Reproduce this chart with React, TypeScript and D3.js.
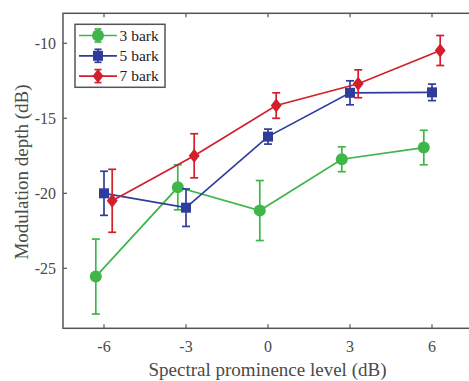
import React from "react";
import * as d3 from "d3";

const levels = [-6, -3, 0, 3, 6];
const xTicks = [-6, -3, 0, 3, 6];
const yTicks = [-25, -20, -15, -10];
const seriesNames = ["3 bark", "5 bark", "7 bark"];
const seriesColors = ["#3fb54a", "#2e3d9b", "#d21f2c"];
const seriesOffsets = [-0.3, 0, 0.3];
const markers = ["circle", "square", "diamond"];
const green = [-25.55, -19.6, -21.15, -17.73, -16.95];
const greenErr = [2.5, 1.5, 2.0, 0.83, 1.15];
const blue = [-20.0, -20.96, -16.22, -13.3, -13.27];
const blueErr = [1.47, 1.25, 0.5, 0.8, 0.55];
const red = [-20.5, -17.5, -14.15, -12.7, -10.48];
const redErr = [2.1, 1.47, 0.85, 0.93, 1.0];

const W = 469, H = 381;
const margin = { left: 63, top: 13.3, right: -4, bottom: 52.7 };

export default function App() {
  const x = d3.scaleLinear().domain([-7.5, 7.5]).range([margin.left, W + 4]);
  const y = d3.scaleLinear().domain([-29, -8]).range([H - margin.bottom, margin.top]);
  const series = [
    { v: green, e: greenErr },
    { v: blue, e: blueErr },
    { v: red, e: redErr },
  ];
  const line = d3.line<[number, number]>().x(d => d[0]).y(d => d[1]);
  const axisColor = "#555";
  const font = "'Liberation Serif', 'Times New Roman', serif";

  const marker = (kind: string, cx: number, cy: number, color: string, key: string) => {
    if (kind === "circle") return <circle key={key} cx={cx} cy={cy} r={6} fill={color} />;
    if (kind === "square") return <rect key={key} x={cx - 5} y={cy - 5} width={10} height={10} fill={color} />;
    const s = 7;
    return <path key={key} d={`M${cx},${cy - s}L${cx + s * 0.78},${cy}L${cx},${cy + s}L${cx - s * 0.78},${cy}Z`} fill={color} />;
  };

  const x0 = x.range()[0], x1 = x.range()[1];
  const y0 = y.range()[0], y1 = y.range()[1];

  return (
    <svg width={W} height={H} style={{ position: "absolute", left: 0, top: 0, background: "#fff" }}>
      <rect x={0} y={0} width={W} height={H} fill="#fff" />
      {series.map((s, i) => {
        const pts: [number, number][] = levels.map((l, j) => [x(l + seriesOffsets[i]), y(s.v[j])]);
        const c = seriesColors[i];
        return (
          <g key={i}>
            <path d={line(pts) || ""} fill="none" stroke={c} strokeWidth={1.7} />
            {levels.map((l, j) => {
              const cx = x(l + seriesOffsets[i]);
              const yt = y(s.v[j] + s.e[j]);
              const yb = y(s.v[j] - s.e[j]);
              return (
                <g key={j} stroke={c} strokeWidth={1.7}>
                  <line x1={cx} x2={cx} y1={yt} y2={yb} />
                  <line x1={cx - 4} x2={cx + 4} y1={yt} y2={yt} />
                  <line x1={cx - 4} x2={cx + 4} y1={yb} y2={yb} />
                </g>
              );
            })}
            {levels.map((l, j) => marker(markers[i], x(l + seriesOffsets[i]), y(s.v[j]), c, `m${j}`))}
          </g>
        );
      })}
      <rect x={x0} y={y1} width={x1 - x0} height={y0 - y1} fill="none" stroke={axisColor} strokeWidth={1.5} />
      {xTicks.map(t => (
        <g key={t}>
          <line x1={x(t)} x2={x(t)} y1={y0} y2={y0 - 4} stroke={axisColor} strokeWidth={1.2} />
          <line x1={x(t)} x2={x(t)} y1={y1} y2={y1 + 4} stroke={axisColor} strokeWidth={1.2} />
          <text x={x(t)} y={y0 + 24} textAnchor="middle" fontFamily={font} fontSize={16} fill="#4a4a4a">{t}</text>
        </g>
      ))}
      {yTicks.map(t => (
        <g key={t}>
          <line x1={x0} x2={x0 + 4} y1={y(t)} y2={y(t)} stroke={axisColor} strokeWidth={1.2} />
          <line x1={x1} x2={x1 - 4} y1={y(t)} y2={y(t)} stroke={axisColor} strokeWidth={1.2} />
          <text x={x0 - 7} y={y(t) + 5.5} textAnchor="end" fontFamily={font} fontSize={16} fill="#4a4a4a">{t}</text>
        </g>
      ))}
      <text x={267.5} y={376} textAnchor="middle" fontFamily={font} fontSize={19} fill="#4a4a4a">Spectral prominence level (dB)</text>
      <text transform={`translate(28, 172) rotate(-90)`} textAnchor="middle" fontFamily={font} fontSize={19} fill="#4a4a4a">Modulation depth (dB)</text>
      <rect x={75} y={24.3} width={90} height={63} fill="#fff" stroke={axisColor} strokeWidth={1.5} />
      {seriesNames.map((n, i) => {
        const ly = 35.5 + i * 20.3;
        const c = seriesColors[i];
        return (
          <g key={n}>
            <line x1={79} x2={117} y1={ly} y2={ly} stroke={c} strokeWidth={1.7} />
            <line x1={98} x2={98} y1={ly - 6.5} y2={ly + 6.5} stroke={c} strokeWidth={1.7} />
            <line x1={94.5} x2={101.5} y1={ly - 6.5} y2={ly - 6.5} stroke={c} strokeWidth={1.7} />
            <line x1={94.5} x2={101.5} y1={ly + 6.5} y2={ly + 6.5} stroke={c} strokeWidth={1.7} />
            {marker(markers[i], 98, ly, c, "lm")}
            <text x={119.5} y={ly + 5} fontFamily={font} fontSize={15.5} fill="#222">{n}</text>
          </g>
        );
      })}
    </svg>
  );
}
